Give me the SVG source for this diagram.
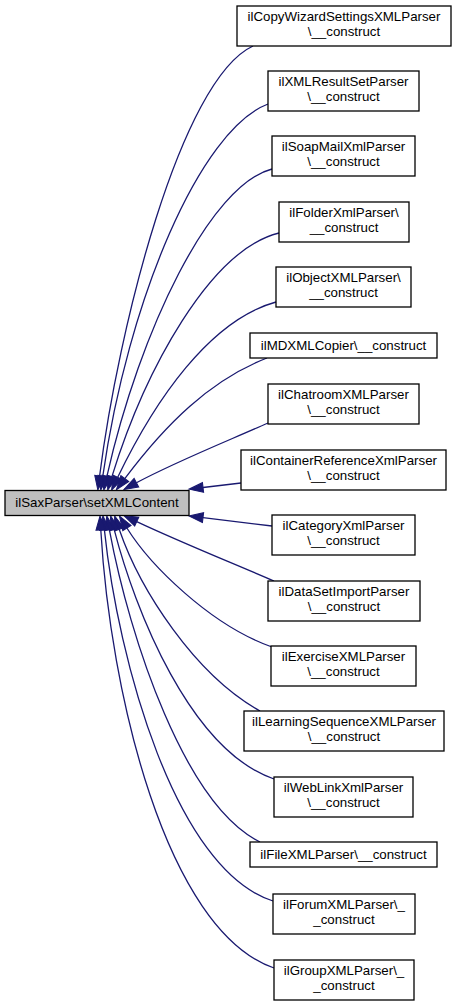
<svg xmlns="http://www.w3.org/2000/svg" width="456" height="1005" viewBox="0 0 456 1005">
<style>
.n rect{fill:#fff;stroke:#000;stroke-width:1.3}
.m rect{fill:#bfbfbf;stroke:#000;stroke-width:1.3}
text{font-family:"Liberation Sans",Arial,sans-serif;font-size:13.3px;fill:#000;text-anchor:middle}
.e path{fill:none;stroke:#191970;stroke-width:1.3;marker-end:url(#ah)}
</style>
<defs>
<marker id="ah" markerUnits="userSpaceOnUse" markerWidth="14" markerHeight="11" refX="0" refY="4.5" orient="auto" viewBox="0 0 13 9" overflow="visible">
<path d="M0,0 L13,4.5 L0,9 z" fill="#191970" stroke="#191970" stroke-width="1"/>
</marker>
</defs>
<rect width="456" height="1005" fill="#fff"/>
<g id="edges" class="e">
<path d="M253,46 C180,80 118,330 99.6,476.1"/>
<path d="M268,104 C200,130 128,300 102.8,476.1"/>
<path d="M272,169 C210,185 140,330 106.9,476.3"/>
<path d="M279,233 C210,250 145,370 111.9,476.6"/>
<path d="M276,302 C210,320 155,400 117.7,477.3"/>
<path d="M267,358 C210,380 165,425 124.8,478.6"/>
<path d="M268,423 C230,440 175,462 136.4,482.8"/>
<path d="M241,483 L203,487.5"/>
<path d="M272,526 L203,517.6"/>
<path d="M274,581 C230,562 180,542 136.7,521.6"/>
<path d="M272,647 C210,625 150,565 126.9,528"/>
<path d="M260,711 C195,675 140,590 119.2,529.3"/>
<path d="M274,779 C190,750 135,610 114.2,529.6"/>
<path d="M260,842 C185,805 130,640 109.4,529.8"/>
<path d="M273,901 C175,870 118,660 104.4,529.9"/>
<path d="M274,968 C165,930 110,690 100.8,530"/>
</g>
<g id="main" class="m"><rect x="5" y="490.5" width="184" height="25"/><text x="97" y="507">ilSaxParser\setXMLContent</text></g>
<g id="n1" class="n"><rect x="237" y="6" width="214" height="40"/><text x="344" y="21">ilCopyWizardSettingsXMLParser</text><text x="344" y="36">\__construct</text></g>
<g id="n2" class="n"><rect x="268" y="71" width="151" height="40"/><text x="343.5" y="86">ilXMLResultSetParser</text><text x="343.5" y="101">\__construct</text></g>
<g id="n3" class="n"><rect x="272" y="136" width="143" height="40"/><text x="343.5" y="151">ilSoapMailXmlParser</text><text x="343.5" y="166">\__construct</text></g>
<g id="n4" class="n"><rect x="279" y="202" width="130" height="40"/><text x="344" y="217">ilFolderXmlParser\</text><text x="344" y="232">__construct</text></g>
<g id="n5" class="n"><rect x="276" y="267" width="135" height="40"/><text x="343.5" y="282">ilObjectXMLParser\</text><text x="343.5" y="297">__construct</text></g>
<g id="n6" class="n"><rect x="250" y="333" width="187" height="25"/><text x="343.5" y="349.5">ilMDXMLCopier\__construct</text></g>
<g id="n7" class="n"><rect x="268" y="384" width="151" height="40"/><text x="343.5" y="399">ilChatroomXMLParser</text><text x="343.5" y="414">\__construct</text></g>
<g id="n8" class="n"><rect x="241" y="450" width="205" height="40"/><text x="343.5" y="465">ilContainerReferenceXmlParser</text><text x="343.5" y="480">\__construct</text></g>
<g id="n9" class="n"><rect x="272" y="515" width="143" height="40"/><text x="343.5" y="530">ilCategoryXmlParser</text><text x="343.5" y="545">\__construct</text></g>
<g id="n10" class="n"><rect x="268" y="581" width="152" height="40"/><text x="344" y="596">ilDataSetImportParser</text><text x="344" y="611">\__construct</text></g>
<g id="n11" class="n"><rect x="271" y="646" width="145" height="40"/><text x="343.5" y="661">ilExerciseXMLParser</text><text x="343.5" y="676">\__construct</text></g>
<g id="n12" class="n"><rect x="244" y="711" width="200" height="40"/><text x="344" y="726">ilLearningSequenceXMLParser</text><text x="344" y="741">\__construct</text></g>
<g id="n13" class="n"><rect x="274" y="777" width="139" height="40"/><text x="343.5" y="792">ilWebLinkXmlParser</text><text x="343.5" y="807">\__construct</text></g>
<g id="n14" class="n"><rect x="250" y="842" width="187" height="25"/><text x="343.5" y="858.5">ilFileXMLParser\__construct</text></g>
<g id="n15" class="n"><rect x="273" y="894" width="142" height="40"/><text x="344" y="909">ilForumXMLParser\_</text><text x="344" y="924">_construct</text></g>
<g id="n16" class="n"><rect x="274" y="960" width="140" height="40"/><text x="344" y="975">ilGroupXMLParser\_</text><text x="344" y="990">_construct</text></g>
</svg>
